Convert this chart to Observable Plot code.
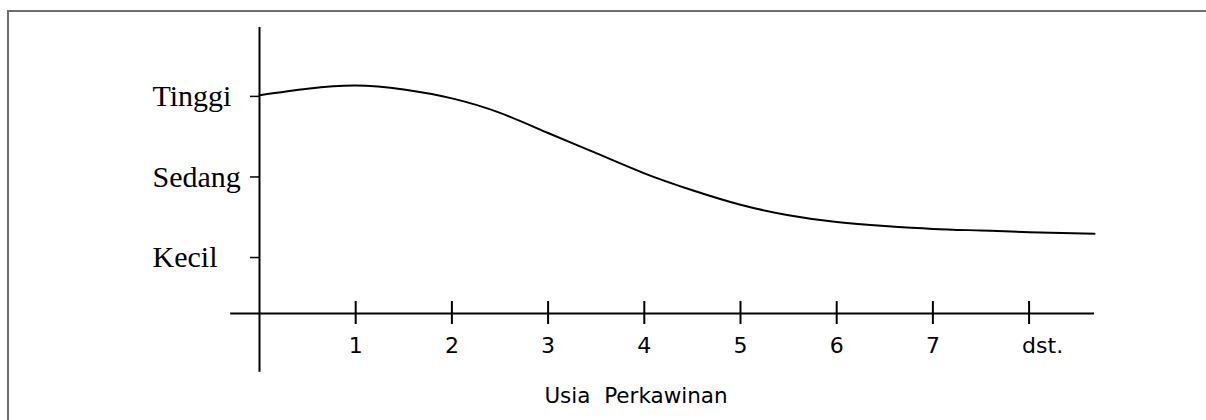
<!DOCTYPE html>
<html>
<head>
<meta charset="utf-8">
<script src="https://cdn.jsdelivr.net/npm/d3@7"></script>
<script src="https://cdn.jsdelivr.net/npm/@observablehq/plot@0.6"></script>
<style>
  html, body { margin: 0; padding: 0; background: #fff; overflow: hidden; }
  svg { display: block; }
</style>
</head>
<body>
<script>
// Horizontal: "Usia Perkawinan" (marriage age)
const xTicks = [1, 2, 3, 4, 5, 6, 7];
const lastTick = 8;
const lastTickLabel = "dst.";
const xAxisLabel = "Usia  Perkawinan";

// Vertical levels
const levelValues = [1, 2, 3];
const levelNames = ["Kecil", "Sedang", "Tinggi"];

// Curve
const curveX = [0, 0.5, 1, 1.5, 2, 2.5, 3, 3.5, 4, 4.5, 5, 5.5, 6, 6.5, 7, 7.5, 8, 8.68];
const curveY = [3.04, 3.12, 3.16, 3.11, 3.0, 2.82, 2.57, 2.32, 2.07, 1.86, 1.68, 1.55, 1.465, 1.415, 1.38, 1.36, 1.34, 1.32];

// Extent of axis lines (data units)
const xDomain = [0, 8.68];
const yDomain = [0.33, 3.88];
const xAxisStart = -0.3;
const yAxisBottom = -0.4;

const curve = curveX.map((x, i) => ({x, y: curveY[i]}));

const sansSize = 22;

const chart = Plot.plot({
  width: 1206,
  height: 420,
  marginLeft: 259,
  marginRight: 112,
  marginTop: 27,
  marginBottom: 107,
  x: {domain: xDomain},
  y: {domain: yDomain},
  style: {fontFamily: "DejaVu Sans", fontSize: "22px", color: "black", background: "white", overflow: "hidden", whiteSpace: "pre"},
  marks: [
    // page frame (top and left edges only, as in the reference)
    () => {
      const g = document.createElementNS("http://www.w3.org/2000/svg", "path");
      g.setAttribute("d", "M8,430V11H1220");
      g.setAttribute("fill", "none");
      g.setAttribute("stroke", "#6e6e6e");
      g.setAttribute("stroke-width", "2");
      return g;
    },
    // vertical axis line
    Plot.ruleX([0], {y1: yAxisBottom, y2: yDomain[1], stroke: "black", strokeWidth: 2}),
    // horizontal axis line
    Plot.ruleY([yDomain[0]], {x1: xAxisStart, x2: xDomain[1], stroke: "black", strokeWidth: 2}),
    // crossing ticks on horizontal axis
    Plot.ruleX([...xTicks, lastTick], {x: d => d, y1: yDomain[0], y2: yDomain[0], insetTop: -12, insetBottom: -11, stroke: "black", strokeWidth: 2}),
    // tick labels
    Plot.axisX({ticks: xTicks, tickSize: 0, tickPadding: 24, tickFormat: d => String(d), label: null, fontSize: sansSize, fontFamily: "DejaVu Sans"}),
    Plot.text([lastTickLabel], {x: lastTick, frameAnchor: "bottom", dy: 24, dx: -7, lineAnchor: "top", textAnchor: "start", fontSize: sansSize, fontFamily: "DejaVu Sans", letterSpacing: "1.5px"}),
    // axis title
    Plot.text([xAxisLabel], {frameAnchor: "bottom", dx: -41, dy: 74, lineAnchor: "top", textAnchor: "middle", fontSize: 21.5, fontFamily: "DejaVu Sans"}),
    // level axis
    Plot.axisY({ticks: levelValues, tickFormat: d => levelNames[levelValues.indexOf(d)], tickSize: 9, tickPadding: 98, textAnchor: "start", label: null, fontFamily: "Liberation Serif", fontSize: 30, dy: -2, strokeWidth: 1.5}),
    // curve
    Plot.line(curve, {x: "x", y: "y", curve: "natural", stroke: "black", strokeWidth: 2})
  ]
});

document.body.appendChild(chart);
</script>
</body>
</html>
